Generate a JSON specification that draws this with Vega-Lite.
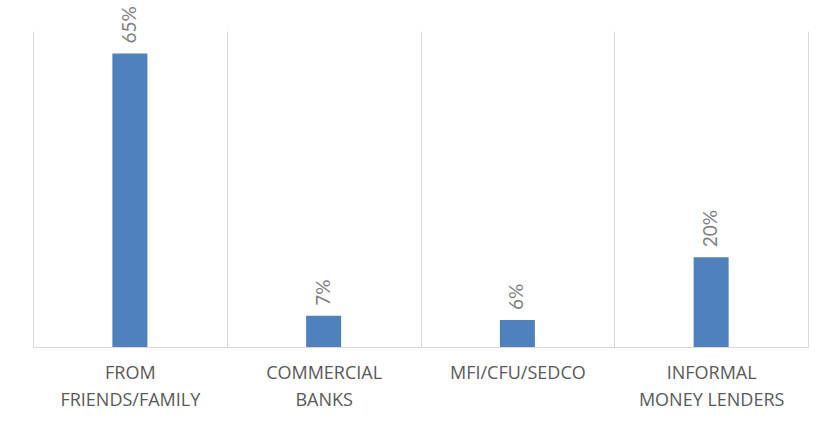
{
  "$schema": "https://vega.github.io/schema/vega-lite/v6.json",
  "width": 775,
  "height": 316,
  "autosize": {"type": "none"},
  "padding": {"left": 33, "top": 31, "right": 30, "bottom": 83},
  "background": "white",
  "data": {
    "values": [
      {"source": "FROM\nFRIENDS/FAMILY", "share": 0.65},
      {"source": "COMMERCIAL\nBANKS", "share": 0.069},
      {"source": "MFI/CFU/SEDCO", "share": 0.06},
      {"source": "INFORMAL\nMONEY LENDERS", "share": 0.199}
    ]
  },
  "encoding": {
    "x": {
      "field": "source",
      "type": "nominal",
      "sort": null,
      "scale": {"paddingInner": 0, "paddingOuter": 0},
      "axis": {
        "title": null,
        "labelAngle": 0,
        "labelExpr": "split(datum.label, '\\n')",
        "labelFont": "Open Sans",
        "labelFontSize": 18,
        "labelColor": "#595959",
        "labelLineHeight": 27,
        "labelPadding": 17,
        "labelBaseline": "top",
        "ticks": false,
        "grid": true,
        "gridColor": "#d9d9d9",
        "gridWidth": 1,
        "tickBand": "extent",
        "domainColor": "#d9d9d9",
        "domainWidth": 1
      }
    },
    "y": {
      "field": "share",
      "type": "quantitative",
      "scale": {"domain": [0, 0.7], "nice": false},
      "axis": null
    }
  },
  "layer": [
    {"mark": {"type": "bar", "size": 35, "color": "#4F81BD"}},
    {
      "mark": {
        "type": "text",
        "angle": 270,
        "align": "left",
        "baseline": "middle",
        "dx": 10,
        "font": "Lato",
        "fontSize": 19,
        "color": "#7f7f7f"
      },
      "encoding": {"text": {"field": "share", "type": "quantitative", "format": ".0%"}}
    }
  ],
  "config": {"view": {"stroke": null}}
}
